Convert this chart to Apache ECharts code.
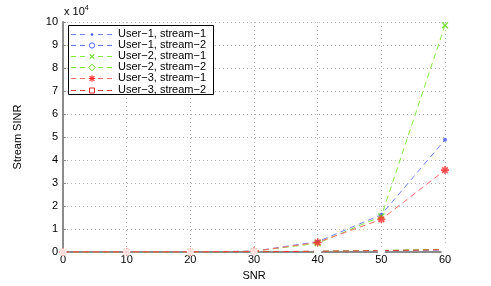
<!DOCTYPE html>
<html><head><meta charset="utf-8">
<script src="https://cdn.jsdelivr.net/npm/echarts@6/dist/echarts.min.js"></script>
<style>html,body{margin:0;padding:0;background:#fff}#c{width:491px;height:286px}</style>
</head><body><div id="c"></div>
<script>
const snr = [0, 10, 20, 30, 40, 50, 60];
const seriesNames = ['User\u22121, stream\u22121','User\u22121, stream\u22122','User\u22122, stream\u22121','User\u22122, stream\u22122','User\u22123, stream\u22121','User\u22123, stream\u22122'];
const u1s1 = [0, 5, 30, 400, 4500, 16200, 48800];
const u1s2 = [0, 2, 10, 100, 300, 600, 900];
const u2s1 = [0, 5, 30, 300, 3800, 15500, 98600];
const u2s2 = [0, 2, 10, 100, 300, 700, 1200];
const u3s1 = [0, 5, 30, 300, 4200, 14200, 35600];
const u3s2 = [0, 2, 10, 100, 300, 600, 1000];
const yTicks = [0,1,2,3,4,5,6,7,8,9,10];

const FONT = 'Liberation Sans, Arial';
const STAR = 'path://M0,-5L0,5M-5,0L5,0M-3.5,-3.5L3.5,3.5M-3.5,3.5L3.5,-3.5';
const XMARK = 'path://M-3,-3L3,3M-3,3L3,-3';
const styles = [
  {c:'#7484ff', mc:'#3f55ff', kind:'dot',     sym:'circle',       size:4},
  {c:'#6676ff', mc:'#5064ff', kind:'circle',  sym:'emptyCircle',  size:7},
  {c:'#86ea3c', mc:'#66dd22', kind:'x',       sym:XMARK,          size:6},
  {c:'#7ee030', mc:'#6ad620', kind:'diamond', sym:'emptyDiamond', size:8},
  {c:'#ff6a6a', mc:'#ff2a2a', kind:'star',    sym:STAR,           size:8},
  {c:'#e83a3a', mc:'#e02828', kind:'square',  sym:'emptyRect',    size:7}
];
const datas = [u1s1,u1s2,u2s1,u2s2,u3s1,u3s2];

const series = [];
datas.forEach((d,i)=>{
  const s = styles[i];
  series.push({
    name: seriesNames[i], type:'line', data: d.map((v,j)=>[snr[j], v]), showSymbol:false,
    lineStyle:{color:s.c, width:1, type:[6,4]},
    emphasis:{disabled:true}, animation:false, z: 3 + i
  });
});
datas.forEach((d,i)=>{
  const s = styles[i];
  const stroke = (s.kind==='x'||s.kind==='star');
  series.push({
    name: seriesNames[i] + ' markers', type:'scatter', data: d.map((v,j)=>[snr[j], v]),
    symbol: s.sym, symbolSize: s.size, clip:false, zlevel:1,
    itemStyle: stroke ? {color:'rgba(0,0,0,0)', borderColor:s.mc, borderWidth:1.6}
             : (s.kind==='dot' ? {color:s.mc} : {color:'rgba(255,255,255,0)', borderColor:s.mc, borderWidth:1.2}),
    emphasis:{disabled:true}, animation:false, z: 10 + i
  });
});

// hand-drawn legend
const LX = 68, LY = 25, LW = 145, LH = 69, ROW0 = 33.5, ROWH = 11.2;
const g = [{type:'rect', shape:{x:LX+0.5, y:LY+0.5, width:LW, height:LH}, style:{fill:'#fff', stroke:'#000', lineWidth:1}, z:50}];
styles.forEach((s,i)=>{
  const y = Math.round(ROW0 + ROWH*i) + 0.5;
  const mx = 92;
  g.push({type:'line', shape:{x1:71, y1:y, x2:87, y2:y}, style:{stroke:s.c, lineWidth:1, lineDash:[5,4]}, z:51});
  g.push({type:'line', shape:{x1:98, y1:y, x2:114, y2:y}, style:{stroke:s.c, lineWidth:1, lineDash:[5,4]}, z:51});
  let m;
  if (s.kind==='dot') m = {type:'circle', shape:{cx:mx, cy:y, r:1.3}, style:{fill:s.mc}};
  else if (s.kind==='circle') m = {type:'circle', shape:{cx:mx, cy:y, r:2.6}, style:{fill:'none', stroke:s.mc, lineWidth:1}};
  else if (s.kind==='square') m = {type:'rect', shape:{x:mx-2.5, y:y-2.5, width:5, height:5}, style:{fill:'none', stroke:s.mc, lineWidth:1}};
  else if (s.kind==='diamond') m = {type:'polygon', shape:{points:[[mx,y-3.3],[mx+3.3,y],[mx,y+3.3],[mx-3.3,y]]}, style:{fill:'none', stroke:s.mc, lineWidth:1}};
  if (m) { m.z = 52; g.push(m); }
  if (s.kind==='x' || s.kind==='star') {
    const r = s.kind==='x' ? 2.2 : 2.4;
    g.push({type:'line', shape:{x1:mx-r, y1:y-r, x2:mx+r, y2:y+r}, style:{stroke:s.mc, lineWidth:1.1}, z:52});
    g.push({type:'line', shape:{x1:mx-r, y1:y+r, x2:mx+r, y2:y-r}, style:{stroke:s.mc, lineWidth:1.1}, z:52});
    if (s.kind==='star') {
      g.push({type:'line', shape:{x1:mx, y1:y-3.2, x2:mx, y2:y+3.2}, style:{stroke:s.mc, lineWidth:1.1}, z:52});
      g.push({type:'line', shape:{x1:mx-3.2, y1:y, x2:mx+3.2, y2:y}, style:{stroke:s.mc, lineWidth:1.1}, z:52});
    }
  }
  g.push({type:'text', left:118, top:y-6.5, style:{text:seriesNames[i], font:'11px '+FONT, fill:'#000'}, z:52});
});
g.push({
  type:'text', left:64, top:5,
  style:{text:'{a|x 10}{b|4}', rich:{
    a:{fontFamily:FONT, fontSize:11, fill:'#000'},
    b:{fontFamily:FONT, fontSize:7, fill:'#000', verticalAlign:'top', padding:[0,0,6,0]}
  }}
});
g.forEach(e=>{ e.zlevel = 2; });

const chart = echarts.init(document.getElementById('c'), null, {renderer:'canvas'});
chart.setOption({
  animation:false,
  backgroundColor:'#fff',
  grid:{left:63, right:46, top:22, bottom:32},
  xAxis:{
    type:'value', min:0, max:60, interval:10, z:0,
    name:'SNR', nameLocation:'middle', nameGap:18,
    nameTextStyle:{fontFamily:FONT, fontSize:11, color:'#000'},
    axisLine:{lineStyle:{color:'#8c8c8c', width:2}},
    axisTick:{inside:true, length:3, lineStyle:{color:'#8c8c8c'}},
    axisLabel:{fontFamily:FONT, fontSize:11, color:'#000', margin:2},
    splitLine:{show:true, lineStyle:{color:'#b4b4b4', type:[1,3], width:1}}
  },
  yAxis:{
    type:'value', min:0, max:100000, interval:10000, z:0,
    name:'Stream SINR', nameLocation:'middle', nameGap:40,
    nameTextStyle:{fontFamily:FONT, fontSize:11, color:'#000'},
    axisLine:{show:true, lineStyle:{color:'#8c8c8c', width:2}},
    axisTick:{show:true, inside:true, length:3, lineStyle:{color:'#8c8c8c'}},
    axisLabel:{fontFamily:FONT, fontSize:11, color:'#000', margin:5,
      formatter:(v)=>String(yTicks[Math.round(v/10000)])},
    splitLine:{show:true, lineStyle:{color:'#b4b4b4', type:[1,3], width:1}}
  },
  graphic: g,
  series: series
});
</script></body></html>
